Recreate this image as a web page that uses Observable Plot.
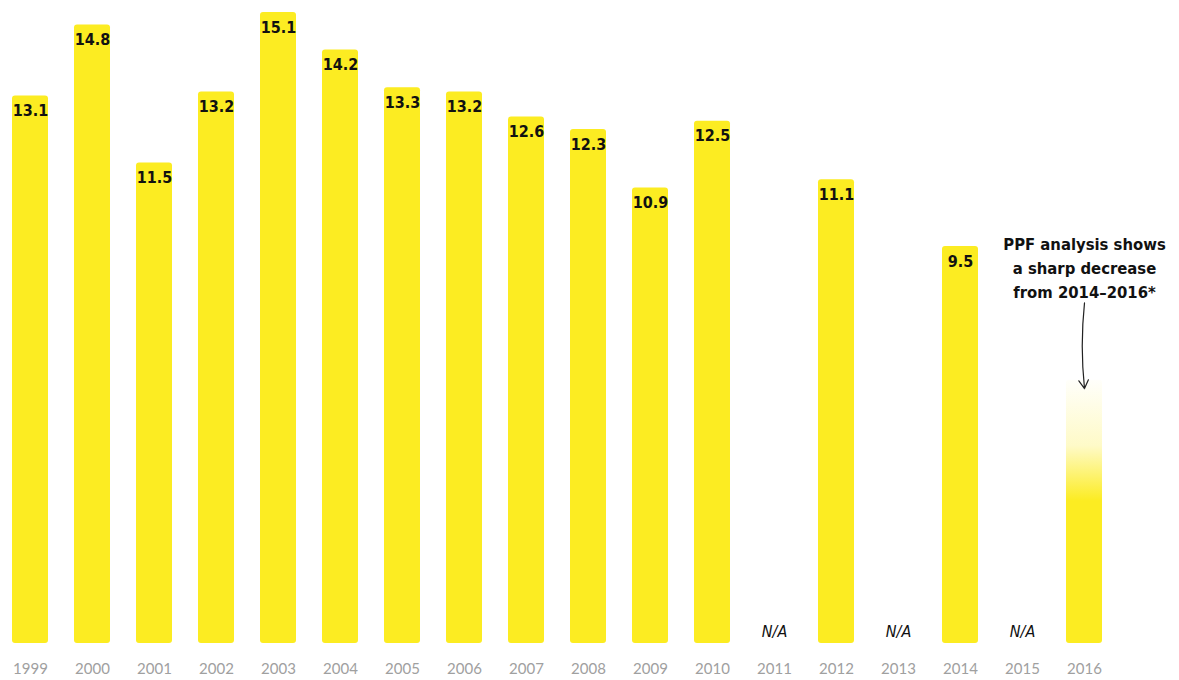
<!DOCTYPE html>
<html>
<head>
<meta charset="utf-8">
<script src="https://cdn.jsdelivr.net/npm/d3@7"></script>
<script src="https://cdn.jsdelivr.net/npm/@observablehq/plot@0.6"></script>
<style>
  html, body { margin: 0; padding: 0; background: #fff; }
  #chart svg { display: block; }
</style>
</head>
<body>
<div id="chart"></div>
<script>
const years = ["1999","2000","2001","2002","2003","2004","2005","2006","2007","2008","2009","2010","2011","2012","2013","2014","2015","2016"];
const values = [13.1, 14.8, 11.5, 13.2, 15.1, 14.2, 13.3, 13.2, 12.6, 12.3, 10.9, 12.5, null, 11.1, null, 9.5, null, null];
const labels = ["13.1","14.8","11.5","13.2","15.1","14.2","13.3","13.2","12.6","12.3","10.9","12.5","N/A","11.1","N/A","9.5","N/A",""];
const estimateYear = "2016";
const estimateValue = 6.3;
const annotationLines = ["PPF analysis shows", "a sharp decrease", "from 2014\u20132016*"];

const yellow = "#FCEC22";
const font = "'DejaVu Sans Condensed', 'Liberation Sans Narrow', 'DejaVu Sans', sans-serif";

const measured = years.map((y, i) => ({year: y, value: values[i], label: labels[i]})).filter(d => d.value != null);
const missing = years.map((y, i) => ({year: y, value: values[i], label: labels[i]})).filter(d => d.value == null && d.label);
const estimate = [{year: estimateYear, value: estimateValue}];
const notes = annotationLines.map((t, i) => ({year: estimateYear, value: estimateValue, text: t, dy: -136 + i * 24}));

const chart = Plot.plot({
  width: 1179,
  height: 680,
  marginTop: 12,
  marginBottom: 37,
  marginLeft: 0,
  marginRight: 0,
  x: {domain: years, range: [-15, 1129], padding: 0.42, label: null, tickSize: 0, tickPadding: 20},
  y: {domain: [0, 15.1], axis: null},
  style: {fontFamily: "Lato, 'Open Sans', sans-serif", fontSize: "15px", color: "#a0a0a0", background: "#fff"},
  marks: [
    Plot.barY(measured, {x: "year", y: "value", fill: yellow, rx: 3}),
    Plot.barY(estimate, {x: "year", y: "value", fill: "url(#fadeGrad)", rx: 3}),
    Plot.text(measured, {x: "year", y: "value", text: "label", dy: 15, fill: "#111", fontSize: 16, fontWeight: "bold", fontFamily: font}),
    Plot.text(missing, {x: "year", y: 0, text: "label", dy: -12, fill: "#111", fontSize: 16, fontFamily: font, fontStyle: "italic"}),
    ...notes.map(n => Plot.text([n], {x: "year", y: "value", text: "text", dy: n.dy, fill: "#111", fontSize: 16.5, fontWeight: 600, fontFamily: font})),
    Plot.arrow(estimate, {x1: "year", x2: "year", y1: d => d.value + 1.85, y2: d => d.value - 0.2, stroke: "#222", strokeWidth: 1.2, bend: -6, headLength: 12})
  ]
});

const svg = d3.select(chart);
const defs = svg.insert("defs", ":first-child");
const g = defs.append("linearGradient").attr("id", "fadeGrad").attr("x1", 0).attr("y1", 0).attr("x2", 0).attr("y2", 1);
g.append("stop").attr("offset", "0%").attr("stop-color", yellow).attr("stop-opacity", 0.02);
g.append("stop").attr("offset", "25%").attr("stop-color", yellow).attr("stop-opacity", 0.25);
g.append("stop").attr("offset", "46%").attr("stop-color", yellow).attr("stop-opacity", 1);
g.append("stop").attr("offset", "100%").attr("stop-color", yellow).attr("stop-opacity", 1);

document.getElementById("chart").appendChild(chart);
</script>
</body>
</html>
